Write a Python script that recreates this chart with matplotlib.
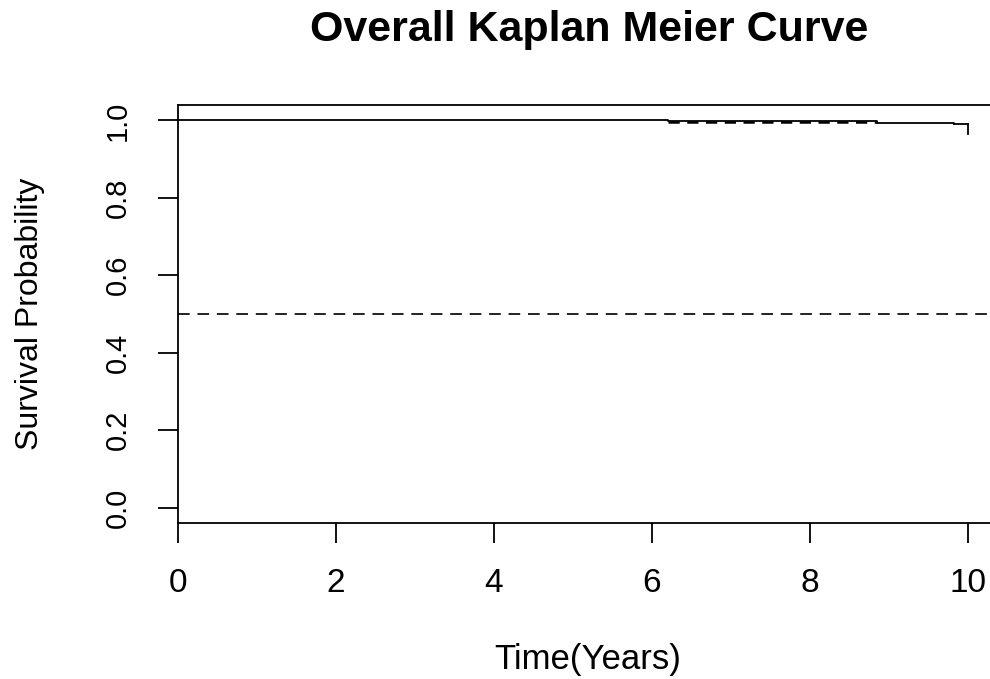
import matplotlib
matplotlib.use("Agg")
import matplotlib.pyplot as plt

plt.rcParams["font.family"] = ["Liberation Sans", "DejaVu Sans"]

# Kaplan-Meier estimate
km_time = [0.0, 6.2, 8.85, 9.83, 10.0]
km_surv = [1.0, 0.9985, 0.994, 0.992, 0.966]
ci_time = [6.2, 8.85]
ci_lower = [0.996, 0.996]
median_ref = 0.5

x_ticks = [0, 2, 4, 6, 8, 10]
y_ticks = [0.0, 0.2, 0.4, 0.6, 0.8, 1.0]

W, H = 990, 679
fig = plt.figure(figsize=(W / 100, H / 100), dpi=100)
ax = fig.add_axes([178 / W, (H - 523) / H, 837 / W, (523 - 105) / H])

LW = 1.3
dash = (6, 4)
ax.step(km_time[:-1], km_surv[:-1], where="post", color="black", lw=LW)
ax.plot([km_time[-2], km_time[-1]], [km_surv[-2], km_surv[-2]], color="black", lw=LW)
ax.plot([km_time[-1], km_time[-1]], [km_surv[-2], km_surv[-1]], color="black", lw=LW)
ax.plot(ci_time, ci_lower, color="black", lw=1.8, dashes=(4.5, 3))
ax.axhline(median_ref, color="#222222", lw=1.4, dashes=dash)

ax.set_xlim(0, 10.6)
ax.set_ylim(-0.04, 1.04)
ax.set_xticks(x_ticks)
ax.set_xticklabels([str(t) for t in x_ticks])
ax.set_yticks(y_ticks)
ax.set_yticklabels([f"{t:.1f}" for t in y_ticks], rotation=90, va="center")
ax.tick_params(axis="both", length=14.5, width=LW)
ax.tick_params(axis="x", labelsize=24, pad=18)
ax.tick_params(axis="y", labelsize=21, pad=19)
for s in ax.spines.values():
    s.set_linewidth(LW)

ax.set_xlabel("Time(Years)", fontsize=25, va="center")
ax.xaxis.set_label_coords((588 - 178) / 837, -(660 - 523) / 418)
ax.set_ylabel("Survival Probability", fontsize=23, va="center")
ax.yaxis.set_label_coords(-(178 - 30) / 837, (523 - 314) / 418)
fig.text(589 / W, 1 - 30 / H, "Overall Kaplan Meier Curve", fontsize=31,
         fontweight="bold", ha="center", va="center")

fig.savefig("out.png", dpi=100)
